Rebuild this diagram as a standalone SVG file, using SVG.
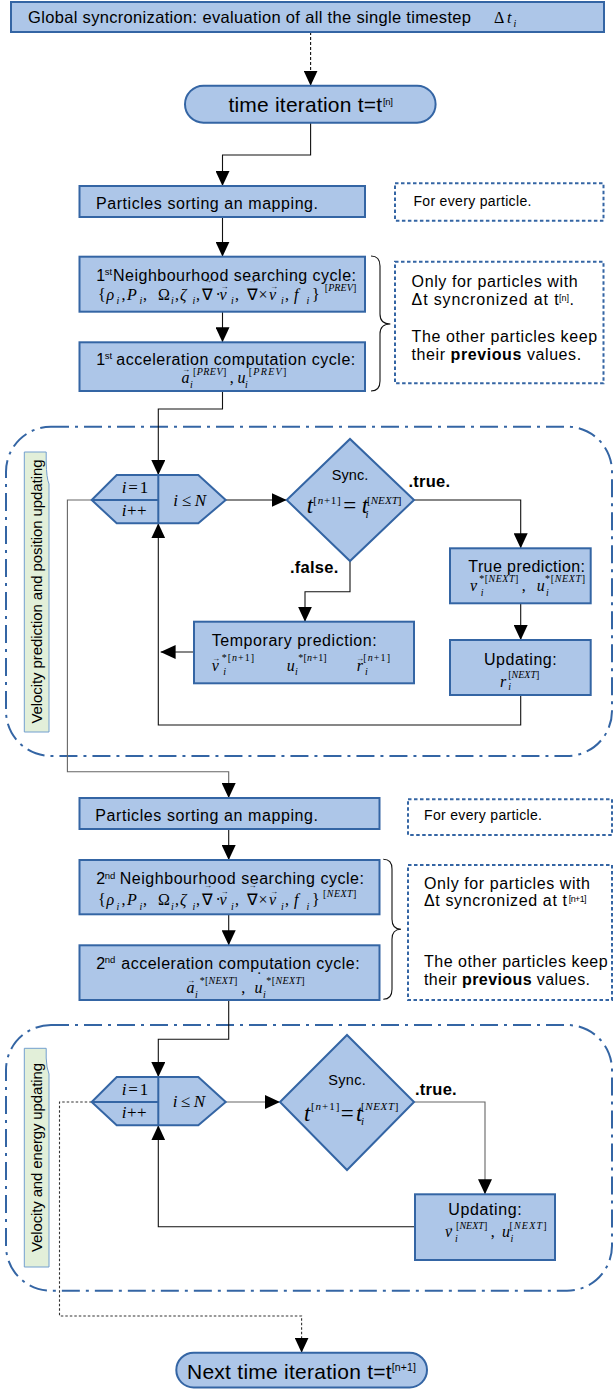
<svg xmlns="http://www.w3.org/2000/svg" width="614" height="1389" viewBox="0 0 614 1389">
<defs>
<marker id="ah" markerUnits="userSpaceOnUse" markerWidth="15" markerHeight="14" refX="15" refY="7" orient="auto"><path d="M0,0 L15,7 L0,14 Z" fill="#000"/></marker>
<style>
.box{fill:#adc6e8;stroke:#3465a4;stroke-width:2}
.div{fill:none;stroke:#3465a4;stroke-width:2}
.note{fill:none;stroke:#3465a4;stroke-width:2;stroke-dasharray:3.5 2.5}
.frame{fill:none;stroke:#3465a4;stroke-width:2;stroke-dasharray:18 6 3 6}
.lbl{fill:#e2efd9;stroke:#729fcf;stroke-width:1}
.c{fill:none;stroke:#111;stroke-width:1.1}
.cg{fill:none;stroke:#666;stroke-width:1.1}
.cd{fill:none;stroke:#333;stroke-width:1.1;stroke-dasharray:2.5 2}
.brace{fill:none;stroke:#111;stroke-width:1.1}
text{fill:#000}
.s{font-family:"Liberation Sans",Arial,sans-serif;font-size:16px}
.s14{font-family:"Liberation Sans",Arial,sans-serif;font-size:14px}
.s15{font-family:"Liberation Sans",Arial,sans-serif;font-size:15px}
.big{font-family:"Liberation Sans",Arial,sans-serif;font-size:21px}
.b{font-family:"Liberation Sans",Arial,sans-serif;font-size:16.5px;font-weight:bold}
.sup{font-family:"Liberation Sans",Arial,sans-serif;font-size:9.5px}
.mi{font-family:"Liberation Serif","Times New Roman",serif;font-style:italic;font-size:16px}
.mr{font-family:"Liberation Serif","Times New Roman",serif;font-size:16px}
.ms{font-family:"Liberation Serif","Times New Roman",serif;font-size:10px}
.msi{font-family:"Liberation Serif","Times New Roman",serif;font-style:italic;font-size:10px}
.mt{font-family:"Liberation Serif","Times New Roman",serif;font-size:23px}
.hx{font-family:"Liberation Serif","Times New Roman",serif;font-size:17px}
.arr{font-family:"Liberation Serif","DejaVu Serif",serif;font-size:8px}
</style>
<g id="nbset">
<text class="mr" y="0"><tspan x="98">{</tspan><tspan x="106.5" font-style="italic">ρ</tspan><tspan x="121.5">,</tspan><tspan x="127" font-style="italic">P</tspan><tspan x="143">,</tspan><tspan x="158">Ω</tspan><tspan x="175">,</tspan><tspan x="180" font-style="italic">ζ</tspan><tspan x="196">,</tspan><tspan x="202">∇</tspan><tspan x="215.5">·</tspan><tspan x="219.5" font-style="italic">v</tspan><tspan x="235">,</tspan><tspan x="246.5">∇</tspan><tspan x="258.5">×</tspan><tspan x="269" font-style="italic">v</tspan><tspan x="285">,</tspan><tspan x="294" font-style="italic">f</tspan><tspan x="312">}</tspan></text>
<text class="msi" y="4.4"><tspan x="116.5">i</tspan><tspan x="139.5">i</tspan><tspan x="171">i</tspan><tspan x="192.5">i</tspan><tspan x="231">i</tspan><tspan x="281">i</tspan><tspan x="306.5">i</tspan></text>
<text class="arr" y="-17.5"><tspan x="204">→</tspan><tspan x="248.5">→</tspan></text>
<text class="arr" y="-11"><tspan x="220.5">→</tspan><tspan x="270">→</tspan></text>
</g>
</defs>

<g id="frames">
<rect class="frame" x="6" y="426.7" width="606" height="329.3" rx="45"/>
<rect class="frame" x="6" y="1025" width="606" height="265.7" rx="45"/>
</g>

<g id="label1">
<path class="lbl" d="M24.3,452 H46.2 V462 Q46.5,478 49,484 V732 H24.3 Z"/>
<text class="s15" transform="translate(42.3,591.5) rotate(-90)" text-anchor="middle" textLength="264">Velocity prediction and position updating</text>
</g>
<g id="label2">
<path class="lbl" d="M24.3,1048.3 H46.2 V1058 Q46.5,1068 49,1074 V1267 H24.3 Z"/>
<text class="s15" transform="translate(42.3,1157.5) rotate(-90)" text-anchor="middle" textLength="189">Velocity and energy updating</text>
</g>

<g id="connectors">
<path class="c" d="M310.6,32 V85.7" stroke-dasharray="3 2" marker-end="url(#ah)"/>
<path class="c" d="M310.6,122.7 V155 H222.5 V186" marker-end="url(#ah)"/>
<path class="c" d="M222.5,217 V256.7" marker-end="url(#ah)"/>
<path class="c" d="M222.5,311.7 V342.3" marker-end="url(#ah)"/>
<path class="c" d="M222.5,391 V409 H158.3 V475" marker-end="url(#ah)"/>
<path class="c" d="M225.7,500 H286.7" marker-end="url(#ah)"/>
<path class="c" d="M414,500 H520.7 V548.3" marker-end="url(#ah)"/>
<path class="c" d="M350,561 V591.7 H305 V621.7" marker-end="url(#ah)"/>
<path class="c" d="M520.7,603.3 V640" marker-end="url(#ah)"/>
<path class="c" d="M520.7,695 V725 H158.3 V523.3" marker-end="url(#ah)"/>
<path class="c" d="M194,652 H160.6" marker-end="url(#ah)"/>
<path class="cg" d="M91.7,500 H67.4 V771.7 H228.7 V798" marker-end="url(#ah)"/>
<path class="c" d="M228.7,829 V860" marker-end="url(#ah)"/>
<path class="c" d="M228.7,914.3 V945.3" marker-end="url(#ah)"/>
<path class="c" d="M228.7,1000 V1039.3 H158.3 V1077" marker-end="url(#ah)"/>
<path class="cg" d="M225.7,1102 H280" marker-end="url(#ah)"/>
<path class="cg" d="M414,1102 H485 V1194.3" marker-end="url(#ah)"/>
<path class="c" d="M415,1226.7 H158.3 V1125.3" marker-end="url(#ah)"/>
<path class="cd" d="M91.7,1102 H59.5 V1316 H301.6 V1352.7" marker-end="url(#ah)"/>
<path class="brace" d="M371,256 Q380,256 380,266 V314 Q380,324 390.4,324 Q380,324 380,334 V381 Q380,391 371,391"/>
<path class="brace" d="M383.3,859.3 Q392,859.3 392,869 V919.3 Q392,929.3 401,929.3 Q392,929.3 392,939.3 V989.3 Q392,999.3 383.3,999.3"/>
</g>

<g id="global-sync">
<rect class="box" x="11" y="2" width="593" height="30"/>
<text class="s" x="28" y="22.7" style="font-size:16.5px" textLength="443">Global syncronization: evaluation of all the single timestep</text>
<text class="mr" x="494" y="22.5">Δ</text><text class="mi" x="507" y="22.5">t</text><text class="msi" x="513.5" y="26.5">i</text>
</g>

<g id="time-iteration">
<rect class="box" x="185" y="85.7" width="250.6" height="37" rx="18.5"/>
<text class="big" x="228.4" y="111.7" textLength="153.6">time iteration t=t</text>
<text class="sup" x="383" y="104.7" textLength="10">[n]</text>
</g>

<g id="sorting1">
<rect class="box" x="79.5" y="186" width="285.5" height="31"/>
<text class="s" x="96" y="208.7" textLength="222">Particles sorting an mapping.</text>
</g>
<g id="note1">
<rect class="note" x="395" y="183.3" width="208.5" height="37.4"/>
<text class="s14" x="413.4" y="206" textLength="118">For every particle.</text>
</g>

<g id="neigh1">
<rect class="box" x="79.5" y="256.7" width="285.5" height="55"/>
<text class="s" x="96.3" y="281">1</text><text class="sup" x="104.7" y="275">st</text>
<text class="s" x="113" y="281" textLength="243">Neighbourhood searching cycle:</text>
<use href="#nbset" y="300"/>
<text class="ms" x="324.7" y="291" textLength="31.6">[<tspan font-style="italic">PREV</tspan>]</text>
</g>

<g id="accel1">
<rect class="box" x="79.5" y="342.3" width="285.5" height="48.7"/>
<text class="s" x="96.3" y="365">1</text><text class="sup" x="104.7" y="359">st</text>
<text class="s" x="116.3" y="365" textLength="239">acceleration computation cycle:</text>
<text class="mi" x="181.5" y="383.3">a</text><text class="arr" x="182" y="372">→</text>
<text class="msi" x="190" y="388.3">i</text>
<text class="ms" x="193" y="374.5" textLength="33.3">[<tspan font-style="italic">PREV</tspan>]</text>
<text class="mr" x="229.7" y="383.3">,</text>
<text class="mi" x="237.5" y="383.3">u</text><text class="mr" x="239.5" y="373">˙</text>
<text class="msi" x="245" y="388.3">i</text>
<text class="ms" x="248.7" y="374.5" textLength="37.6">[<tspan font-style="italic">PREV</tspan>]</text>
</g>

<g id="note2">
<rect class="note" x="395" y="261.7" width="208.5" height="121.6"/>
<text class="s" x="411.6" y="287" textLength="166">Only for particles with</text>
<text class="s" x="411.6" y="305" textLength="147">Δt syncronized at t</text>
<text class="sup" x="559" y="301" style="font-size:9px">[n]</text>
<text class="s" x="569.5" y="305">.</text>
<text class="s" x="411.6" y="341.7" textLength="185.5">The other particles keep</text>
<text class="s" x="411.6" y="360" textLength="169.5">their <tspan font-weight="bold">previous</tspan> values.</text>
</g>

<g id="init1">
<polygon class="box" points="91.7,500 116.7,475 198.3,475 225.7,500 198.3,523.3 116.7,523.3"/>
<path class="div" d="M158.3,475 V523.3 M91.7,500 H158.3"/>
<text class="hx" x="121.7" y="493.3" textLength="26.6"><tspan font-style="italic">i</tspan>=1</text>
<text class="hx" x="121.7" y="516" textLength="25"><tspan font-style="italic">i</tspan>++</text>
<text class="hx" x="173.3" y="506" textLength="32.7" font-style="italic">i≤N</text>
</g>

<g id="sync1">
<polygon class="box" points="286.7,500 350,439 414,500 350,561"/>
<text class="s14" x="331.7" y="480" style="font-size:14.5px" textLength="36.6">Sync.</text>
<text class="mt" x="306.7" y="513.3" font-style="italic">t</text>
<text class="ms" x="313.3" y="504" style="font-size:11px" textLength="27.4">[<tspan font-style="italic">n</tspan>+1]</text>
<text class="mt" x="343.3" y="513.3">=</text>
<text class="mt" x="361.7" y="513.3" font-style="italic">t</text>
<text class="msi" x="365.5" y="518" style="font-size:11px">i</text>
<text class="ms" x="367" y="504" style="font-size:11px" textLength="34.5">[<tspan font-style="italic">NEXT</tspan>]</text>
<text class="b" x="408.5" y="487" textLength="41.5">.true.</text>
<text class="b" x="290" y="573.3" textLength="48.3">.false.</text>
</g>

<g id="truepred">
<rect class="box" x="450" y="548.3" width="140.7" height="55"/>
<text class="s" x="468.3" y="571.7" textLength="116.7">True prediction:</text>
<text class="mi" x="470" y="590.7">v</text><text class="arr" x="470.5" y="584.5">→</text>
<text class="msi" x="480.7" y="595.5">i</text>
<text class="ms" x="479.3" y="581.5" textLength="39">*[<tspan font-style="italic">NEXT</tspan>]</text>
<text class="mr" x="521.7" y="590.7">,</text>
<text class="mi" x="536.7" y="590.7">u</text>
<text class="msi" x="546" y="595.5">i</text>
<text class="ms" x="545" y="581.5" textLength="40">*[<tspan font-style="italic">NEXT</tspan>]</text>
</g>

<g id="temppred">
<rect class="box" x="194" y="621.7" width="220" height="61.6"/>
<text class="s" x="211.7" y="646" textLength="165">Temporary prediction:</text>
<text class="mi" x="211.7" y="670.7">v</text><text class="arr" x="212" y="660.5">→</text>
<text class="msi" x="223.3" y="675">i</text>
<text class="ms" x="221.7" y="661" textLength="32.3">*[<tspan font-style="italic">n</tspan>+1]</text>
<text class="mi" x="286.7" y="670.7">u</text>
<text class="msi" x="295" y="675">i</text>
<text class="ms" x="298.3" y="661" textLength="28.4">*[<tspan font-style="italic">n</tspan>+1]</text>
<text class="mi" x="356.7" y="670.7">r</text><text class="arr" x="356" y="660.5">→</text>
<text class="msi" x="365" y="675">i</text>
<text class="ms" x="363.3" y="661" textLength="26.7">[<tspan font-style="italic">n</tspan>+1]</text>
</g>

<g id="update1">
<rect class="box" x="450" y="640" width="140.7" height="55"/>
<text class="s" x="484" y="665" textLength="72.7">Updating:</text>
<text class="mi" x="500" y="686.7">r</text>
<text class="msi" x="508.3" y="690">i</text>
<text class="ms" x="508.3" y="677.5" textLength="31">[<tspan font-style="italic">NEXT</tspan>]</text>
</g>

<g id="sorting2">
<rect class="box" x="79.5" y="798" width="300" height="31"/>
<text class="s" x="95.3" y="820.5" textLength="222.7">Particles sorting an mapping.</text>
</g>
<g id="note3">
<rect class="note" x="408" y="799.3" width="204" height="35.7"/>
<text class="s14" x="424" y="820" textLength="118">For every particle.</text>
</g>

<g id="neigh2">
<rect class="box" x="79.5" y="860" width="300" height="54.3"/>
<text class="s" x="96.3" y="884.3">2</text><text class="sup" x="104.7" y="879">nd</text>
<text class="s" x="119.7" y="884.3" textLength="244.3">Neighbourhood searching cycle:</text>
<use href="#nbset" y="905.3"/>
<text class="ms" x="323" y="896.5" textLength="33.3">[<tspan font-style="italic">NEXT</tspan>]</text>
</g>

<g id="accel2">
<rect class="box" x="79.5" y="945.3" width="300" height="54.7"/>
<text class="s" x="96.3" y="968.7">2</text><text class="sup" x="104.7" y="963">nd</text>
<text class="s" x="121.3" y="968.7" textLength="238.4">acceleration computation cycle:</text>
<text class="mi" x="186.5" y="992.7">a</text><text class="arr" x="187" y="983">→</text>
<text class="msi" x="195" y="997.5">i</text>
<text class="ms" x="199.7" y="984" textLength="37.6">*[<tspan font-style="italic">NEXT</tspan>]</text>
<text class="mr" x="241.3" y="992.7">,</text>
<text class="mi" x="254.5" y="992.7">u</text><text class="mr" x="256.5" y="982.5">˙</text>
<text class="msi" x="263" y="997.5">i</text>
<text class="ms" x="266.3" y="984" textLength="38.4">*[<tspan font-style="italic">NEXT</tspan>]</text>
</g>

<g id="note4">
<rect class="note" x="408" y="865" width="204" height="135"/>
<text class="s" x="424" y="889" textLength="166">Only for particles with</text>
<text class="s" x="424" y="906" textLength="143">Δt syncronized at t</text>
<text class="sup" x="568.8" y="902" style="font-size:9px" textLength="17.7">[n+1]</text>
<text class="s" x="424" y="967.3" textLength="183.7">The other particles keep</text>
<text class="s" x="424" y="985" textLength="166">their <tspan font-weight="bold">previous</tspan> values.</text>
</g>

<g id="init2" transform="translate(0,602)">
<polygon class="box" points="91.7,500 116.7,475 198.3,475 225.7,500 198.3,523.3 116.7,523.3"/>
<path class="div" d="M158.3,475 V523.3 M91.7,500 H158.3"/>
<text class="hx" x="121.7" y="493.3" textLength="26.6"><tspan font-style="italic">i</tspan>=1</text>
<text class="hx" x="121.7" y="516" textLength="25"><tspan font-style="italic">i</tspan>++</text>
<text class="hx" x="172.7" y="505" textLength="32.3" font-style="italic">i≤N</text>
</g>

<g id="sync2">
<polygon class="box" points="280,1102 347,1035 414,1102 347,1170"/>
<text class="s14" x="328.3" y="1085" style="font-size:14.5px" textLength="37.4">Sync.</text>
<text class="mt" x="304" y="1120.7" font-style="italic">t</text>
<text class="ms" x="311" y="1109.5" style="font-size:11px" textLength="28.3">[<tspan font-style="italic">n</tspan>+1]</text>
<text class="mt" x="340.7" y="1120.7">=</text>
<text class="mt" x="356" y="1120.7" font-style="italic">t</text>
<text class="msi" x="361" y="1125" style="font-size:11px">i</text>
<text class="ms" x="361" y="1109.5" style="font-size:11px" textLength="37.3">[<tspan font-style="italic">NEXT</tspan>]</text>
<text class="b" x="415" y="1095" textLength="41.7">.true.</text>
</g>

<g id="update2">
<rect class="box" x="415" y="1194.3" width="140" height="65.7"/>
<text class="s" x="448.3" y="1215" textLength="73.4">Updating:</text>
<text class="mi" x="445" y="1236.5">v</text><text class="arr" x="445.5" y="1230">→</text>
<text class="msi" x="455" y="1242">i</text>
<text class="ms" x="456" y="1228.5" textLength="31.3">[<tspan font-style="italic">NEXT</tspan>]</text>
<text class="mr" x="490.7" y="1236.5">,</text>
<text class="mi" x="502" y="1236.5">u</text>
<text class="msi" x="510.5" y="1242">i</text>
<text class="ms" x="509.5" y="1228.5" textLength="37">[<tspan font-style="italic">NEXT</tspan>]</text>
</g>

<g id="next-iteration">
<rect class="box" x="176.3" y="1352.7" width="250.7" height="34.8" rx="17.4"/>
<text class="big" x="187" y="1379.3" textLength="204.7">Next time iteration t=t</text>
<text class="sup" x="391.7" y="1371.2" style="font-size:10.5px" textLength="24.3">[n+1]</text>
</g>
</svg>
